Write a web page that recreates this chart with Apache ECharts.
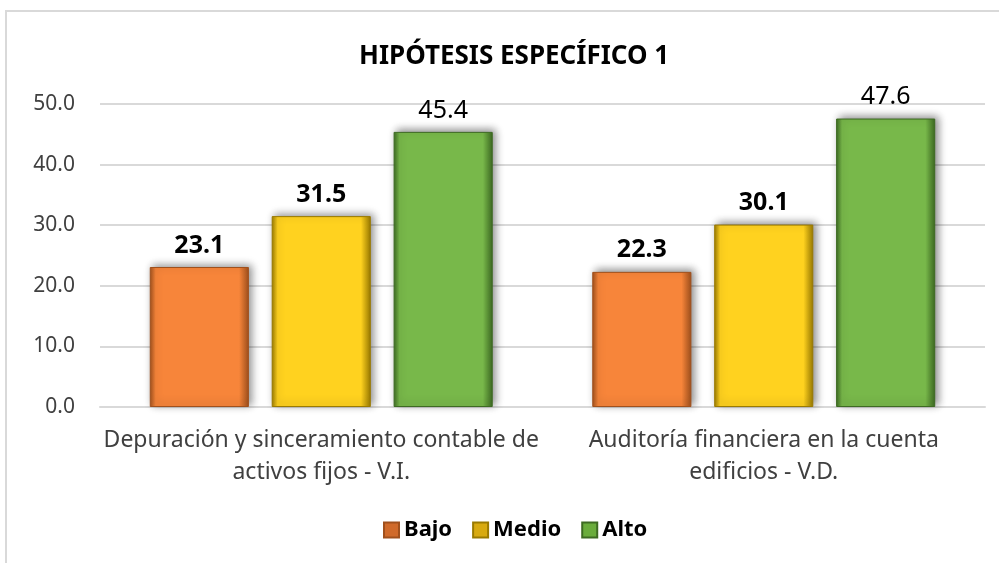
<!DOCTYPE html>
<html><head><meta charset="utf-8">
<script src="https://cdn.jsdelivr.net/npm/echarts@6/dist/echarts.min.js"></script>
<style>
html,body{margin:0;padding:0;background:#fff;}
#frame{position:absolute;left:5px;top:10px;width:1010px;height:570px;border:2px solid #d9d9d9;box-sizing:border-box;}
#c{position:absolute;left:0;top:0;width:999px;height:563px;}
</style></head>
<body><div id="frame"></div><div id="c"></div>
<script>
const titleText = 'HIPÓTESIS ESPECÍFICO 1';
const categories = ['Depuración y sinceramiento contable de\nactivos fijos - V.I.', 'Auditoría financiera en la cuenta\nedificios - V.D.'];
const seriesNames = ['Bajo', 'Medio', 'Alto'];
const bajo = [23.1, 22.3];
const medio = [31.5, 30.1];
const alto = [45.4, 47.6];
const yTicks = [0, 10, 20, 30, 40, 50];

const FONT = 'Noto Sans';
function grad(dark, mid) {
  return new echarts.graphic.LinearGradient(0, 0, 1, 0, [
    {offset: 0, color: dark},
    {offset: 0.06, color: mid},
    {offset: 0.9, color: mid},
    {offset: 1, color: dark}
  ]);
}
const styles = [
  {dark: '#a0501c', mid: '#f7853a', legend: '#d06a2a', bold: 'bold'},
  {dark: '#9a7a00', mid: '#ffd21f', legend: '#d8aa10', bold: 'bold'},
  {dark: '#3d6a22', mid: '#78b84a', legend: '#6aac3c', bold: 'normal'}
];
const dataSets = [bajo, medio, alto];

const chart = echarts.init(document.getElementById('c'));
chart.setOption({
  animation: false,
  title: {
    text: titleText, left: 354, top: 39,
    textStyle: {fontFamily: FONT, fontSize: 26, fontWeight: 'bold', color: '#000'}
  },
  legend: {
    bottom: 17, left: 378, itemWidth: 15, itemHeight: 15, itemGap: 20,
    textStyle: {fontFamily: FONT, fontSize: 22, fontWeight: 'bold', color: '#000'},
    data: seriesNames.map((n, i) => ({name: n, icon: 'rect', itemStyle: {color: styles[i].legend}}))
  },
  grid: {left: 100, right: 14, top: 104, bottom: 156},
  xAxis: {
    type: 'category', data: categories,
    axisLine: {lineStyle: {color: '#d9d9d9', width: 2}},
    axisTick: {show: false},
    axisLabel: {interval: 0, fontFamily: FONT, fontSize: 23, color: '#404040', margin: 17, lineHeight: 32}
  },
  yAxis: {
    type: 'value', min: 0, max: 50, interval: 10,
    axisLine: {show: false}, axisTick: {show: false},
    splitLine: {lineStyle: {color: '#d9d9d9', width: 2}},
    axisLabel: {fontFamily: FONT, fontSize: 21, color: '#404040', margin: 25,
      formatter: v => v.toFixed(1)}
  },
  series: seriesNames.map((n, i) => ({
    name: n, type: 'bar', data: dataSets[i],
    barWidth: '22.4%', barGap: '23%',
    itemStyle: {
      color: grad(styles[i].dark, styles[i].mid),
      borderColor: styles[i].dark, borderWidth: 1,
      shadowColor: 'rgba(0,0,0,0.45)', shadowBlur: 8, shadowOffsetX: 3, shadowOffsetY: -2
    },
    label: {
      show: true, position: 'top', distance: 9,
      fontFamily: FONT, fontSize: 25, fontWeight: styles[i].bold, color: '#000',
      formatter: p => p.value.toFixed(1)
    }
  }))
});
</script></body></html>
